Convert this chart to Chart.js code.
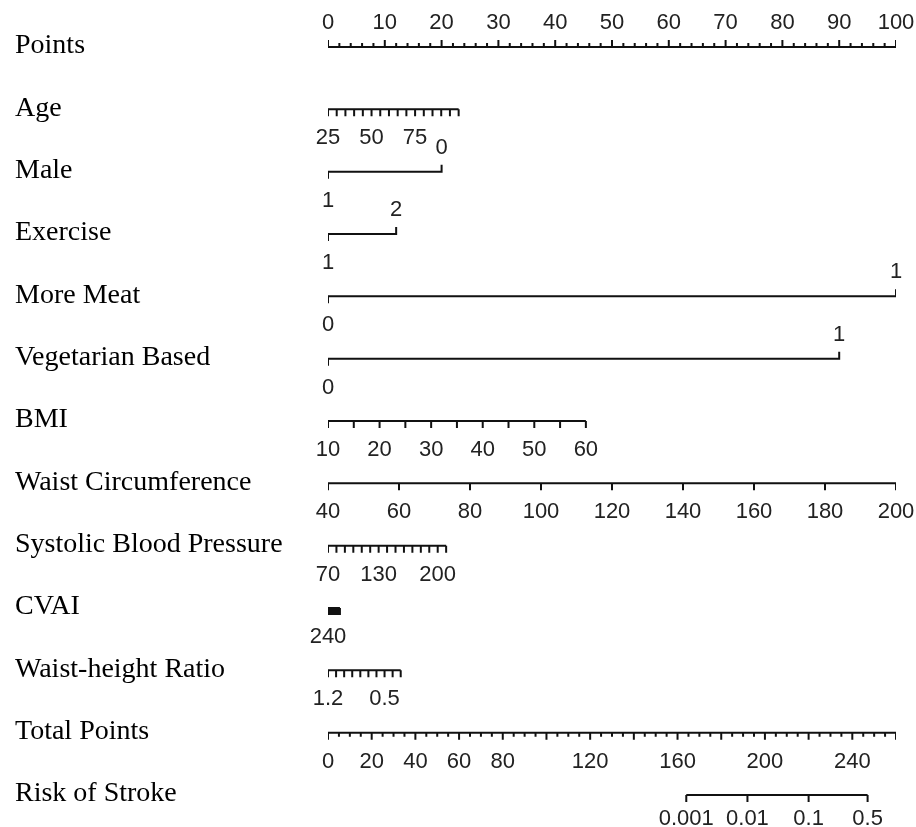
<!DOCTYPE html>
<html>
<head>
<meta charset="utf-8">
<script src="https://cdn.jsdelivr.net/npm/chart.js@4.4.1/dist/chart.umd.min.js"></script>
<style>
  html, body { margin: 0; padding: 0; background: #fff; }
  #wrap { width: 916px; height: 827px; }
</style>
</head>
<body>
<div id="wrap"><canvas id="nomogram"></canvas></div>
<script>
// row titles, top to bottom
const rowNames = ["Points", "Age", "Male", "Exercise", "More Meat", "Vegetarian Based", "BMI",
  "Waist Circumference", "Systolic Blood Pressure", "CVAI", "Waist-height Ratio", "Total Points", "Risk of Stroke"];

// continuous axes: value at each end, points at each end, labelled values
const pointsEnds = [0, 100], pointsPts = [0, 100], pointsLabels = [0, 10, 20, 30, 40, 50, 60, 70, 80, 90, 100];
const ageEnds = [25, 100], agePts = [0, 23], ageLabels = [25, 50, 75];
const bmiEnds = [10, 60], bmiPts = [0, 45.4], bmiLabels = [10, 20, 30, 40, 50, 60];
const waistEnds = [40, 200], waistPts = [0, 100], waistLabels = [40, 60, 80, 100, 120, 140, 160, 180, 200];
const sbpEnds = [70, 210], sbpPts = [0, 20.8], sbpLabels = [70, 130, 200];
const cvaiEnds = [240, 0], cvaiPts = [0, 2.1], cvaiLabels = [240];
const whrEnds = [1.2, 0.3], whrPts = [0, 12.8], whrLabels = [1.2, 0.5];
const totalEnds = [0, 260], totalPts = [0, 100], totalLabels = [0, 20, 40, 60, 80, 120, 160, 200, 240];

// two-level factors: [left end value, right end value] and their points
const maleValues = [1, 0], malePts = [0, 20];
const exerciseValues = [1, 2], exercisePts = [0, 12];
const meatValues = [0, 1], meatPts = [0, 100];
const vegValues = [0, 1], vegPts = [0, 90];

// risk scale, placed on the total points axis
const riskLabels = ["0.001", "0.01", "0.1", "0.5"];
const riskTotal = [164, 192, 220, 247];

// layout of the rows
const Y_MIN = -0.754, Y_MAX = 12.513;
const ROW_PX = 827 / (Y_MAX - Y_MIN);
const MAJOR = 7 / ROW_PX, MINOR = 4 / ROW_PX;

const scales = {};
const datasets = [];
const labelItems = [];

function line(id, data) {
  return {
    data, xAxisID: id, yAxisID: "y",
    borderColor: "#111", borderWidth: 2,
    pointRadius: 0, spanGaps: false, fill: false, tension: 0
  };
}

// hidden x scale so that ends[0] sits at pts[0] and ends[1] at pts[1] on the 0-100 points range
function addScale(id, ends, pts) {
  const slope = (ends[1] - ends[0]) / (pts[1] - pts[0]);
  const at0 = ends[0] - pts[0] * slope;
  const at100 = ends[0] + (100 - pts[0]) * slope;
  scales[id] = {
    type: "linear", axis: "x", position: "bottom", display: false, bounds: "data",
    min: Math.min(at0, at100), max: Math.max(at0, at100), reverse: at0 > at100
  };
}

function addAxisRow(id, row, ends, pts, step, majorEvery, labels, up) {
  addScale(id, ends, pts);
  const dir = up ? -1 : 1;
  const data = [{ x: ends[0], y: row }, { x: ends[1], y: row }, { x: ends[1], y: null }];
  const n = Math.round(Math.abs(ends[1] - ends[0]) / step);
  const sign = ends[1] > ends[0] ? 1 : -1;
  for (let i = 0; i <= n; i++) {
    const v = ends[0] + sign * i * step;
    const len = (majorEvery && i % majorEvery !== 0) ? MINOR : MAJOR;
    data.push({ x: v, y: row }, { x: v, y: row + dir * len }, { x: v, y: null });
  }
  datasets.push(line(id, data));
  labels.forEach(v => labelItems.push({ id, row, value: v, text: String(v), up }));
}

function addBinaryRow(id, row, values, pts) {
  addScale(id, values, pts);
  const data = [
    { x: values[0], y: row + MAJOR }, { x: values[0], y: row },
    { x: values[1], y: row }, { x: values[1], y: row - MAJOR }
  ];
  datasets.push(line(id, data));
  labelItems.push({ id, row, value: values[0], text: String(values[0]), up: false });
  labelItems.push({ id, row, value: values[1], text: String(values[1]), up: true });
}

addAxisRow("points", 0, pointsEnds, pointsPts, 2, 5, pointsLabels, true);
addAxisRow("age", 1, ageEnds, agePts, 5, 0, ageLabels, false);
addBinaryRow("male", 2, maleValues, malePts);
addBinaryRow("exercise", 3, exerciseValues, exercisePts);
addBinaryRow("meat", 4, meatValues, meatPts);
addBinaryRow("veg", 5, vegValues, vegPts);
addAxisRow("bmi", 6, bmiEnds, bmiPts, 5, 0, bmiLabels, false);
addAxisRow("waist", 7, waistEnds, waistPts, 20, 0, waistLabels, false);
addAxisRow("sbp", 8, sbpEnds, sbpPts, 10, 0, sbpLabels, false);
addAxisRow("cvai", 9, cvaiEnds, cvaiPts, 10, 0, cvaiLabels, false);
addAxisRow("whr", 10, whrEnds, whrPts, 0.1, 0, whrLabels, false);
addAxisRow("total", 11, totalEnds, totalPts, 5, 4, totalLabels, false);

// risk row
addScale("risk", totalEnds, totalPts);
const riskData = [{ x: riskTotal[0], y: 12 }, { x: riskTotal[riskTotal.length - 1], y: 12 }, { x: 0, y: null }];
riskTotal.forEach(t => riskData.push({ x: t, y: 12 }, { x: t, y: 12 + MAJOR }, { x: t, y: null }));
datasets.push(line("risk", riskData));
riskTotal.forEach((t, i) => labelItems.push({ id: "risk", row: 12, value: t, text: riskLabels[i], up: false, gap: 30 }));

// numbers next to each axis
const tickLabelPlugin = {
  id: "tickLabels",
  afterDatasetsDraw(chart) {
    const ctx = chart.ctx;
    const yScale = chart.scales.y;
    ctx.save();
    ctx.font = '22px "Liberation Sans", Arial, sans-serif';
    ctx.fillStyle = "#222";
    ctx.textAlign = "center";
    ctx.textBaseline = "alphabetic";
    labelItems.forEach(item => {
      const x = chart.scales[item.id].getPixelForValue(item.value);
      const y = yScale.getPixelForValue(item.row);
      ctx.fillText(item.text, x, item.up ? y - 18 : y + (item.gap || 35));
    });
    ctx.restore();
  }
};

const ctx = document.getElementById("nomogram").getContext("2d");

new Chart(ctx, {
  type: "line",
  data: { datasets },
  options: {
    responsive: true,
    maintainAspectRatio: false,
    animation: false,
    events: [],
    layout: { padding: { left: 15, right: 20, top: 0, bottom: 0 } },
    plugins: {
      legend: { display: false },
      tooltip: { enabled: false }
    },
    scales: {
      ...scales,
      y: {
        type: "linear",
        position: "left",
        reverse: true,
        bounds: "data",
        min: Y_MIN,
        max: Y_MAX,
        grid: { display: false },
        border: { display: false },
        afterBuildTicks: s => { s.ticks = rowNames.map((_, i) => ({ value: i })); },
        afterFit: s => { s.width = 313; s.paddingTop = 0; s.paddingBottom = 0; },
        ticks: {
          autoSkip: false,
          crossAlign: "far",
          padding: 0,
          labelOffset: -1,
          color: "#000",
          font: { family: '"Liberation Serif", "Times New Roman", serif', size: 28 },
          callback: v => rowNames[v] ?? ""
        }
      }
    }
  },
  plugins: [tickLabelPlugin]
});
</script>
</body>
</html>
